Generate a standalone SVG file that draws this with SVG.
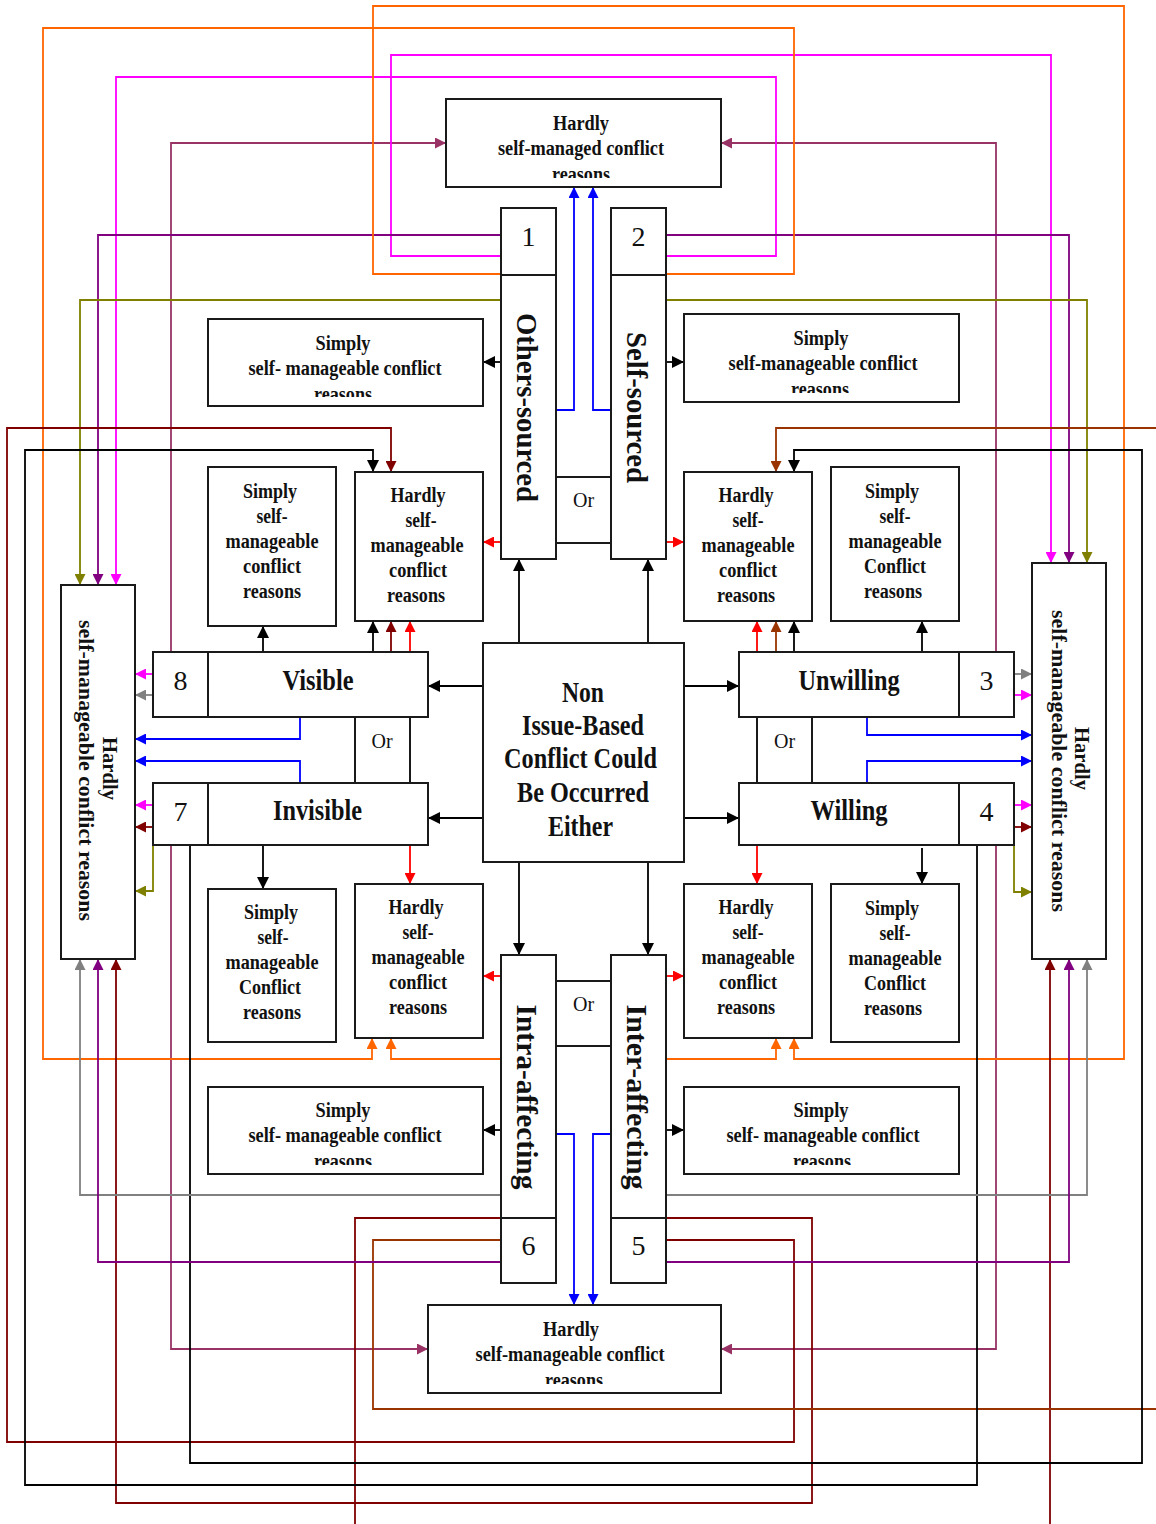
<svg xmlns="http://www.w3.org/2000/svg" width="1156" height="1524" viewBox="0 0 1156 1524">
<style>
.bx{fill:#fff;stroke:#1a1a1a;stroke-width:2}
.t{font-family:"Liberation Serif","Times New Roman",serif;font-weight:bold;fill:#111;text-anchor:middle}
.s{font-size:20.5px}
.L{font-size:29px}
.V{font-size:29px}
.n{font-family:"Liberation Serif","Times New Roman",serif;font-weight:normal;fill:#111;text-anchor:middle;font-size:28px}
.or{font-family:"Liberation Serif","Times New Roman",serif;font-weight:normal;fill:#111;text-anchor:middle;font-size:20px}
.c{fill:none;stroke-width:1.8}
.k{stroke:#000}.r{stroke:#ff0000}.b{stroke:#0000ff}.m{stroke:#ff00ff}.p{stroke:#800080}.o{stroke:#808000}.g{stroke:#808080}.dr{stroke:#800000}.og{stroke:#ff6600}.pm{stroke:#993366}.br{stroke:#993300}
</style>
<defs>
<marker id="aK" viewBox="0 0 10 10" refX="10" refY="5" markerWidth="12" markerHeight="12" markerUnits="userSpaceOnUse" orient="auto"><path d="M0,0 L10,5 L0,10 z" fill="#000"/></marker>
<marker id="aR" viewBox="0 0 10 10" refX="10" refY="5" markerWidth="11" markerHeight="11" markerUnits="userSpaceOnUse" orient="auto"><path d="M0,0 L10,5 L0,10 z" fill="#ff0000"/></marker>
<marker id="aB" viewBox="0 0 10 10" refX="10" refY="5" markerWidth="11" markerHeight="11" markerUnits="userSpaceOnUse" orient="auto"><path d="M0,0 L10,5 L0,10 z" fill="#0000ff"/></marker>
<marker id="aM" viewBox="0 0 10 10" refX="10" refY="5" markerWidth="11" markerHeight="11" markerUnits="userSpaceOnUse" orient="auto"><path d="M0,0 L10,5 L0,10 z" fill="#ff00ff"/></marker>
<marker id="aP" viewBox="0 0 10 10" refX="10" refY="5" markerWidth="11" markerHeight="11" markerUnits="userSpaceOnUse" orient="auto"><path d="M0,0 L10,5 L0,10 z" fill="#800080"/></marker>
<marker id="aO" viewBox="0 0 10 10" refX="10" refY="5" markerWidth="11" markerHeight="11" markerUnits="userSpaceOnUse" orient="auto"><path d="M0,0 L10,5 L0,10 z" fill="#808000"/></marker>
<marker id="aG" viewBox="0 0 10 10" refX="10" refY="5" markerWidth="11" markerHeight="11" markerUnits="userSpaceOnUse" orient="auto"><path d="M0,0 L10,5 L0,10 z" fill="#808080"/></marker>
<marker id="aDR" viewBox="0 0 10 10" refX="10" refY="5" markerWidth="11" markerHeight="11" markerUnits="userSpaceOnUse" orient="auto"><path d="M0,0 L10,5 L0,10 z" fill="#800000"/></marker>
<marker id="aOG" viewBox="0 0 10 10" refX="10" refY="5" markerWidth="11" markerHeight="11" markerUnits="userSpaceOnUse" orient="auto"><path d="M0,0 L10,5 L0,10 z" fill="#ff6600"/></marker>
<marker id="aPM" viewBox="0 0 10 10" refX="10" refY="5" markerWidth="11" markerHeight="11" markerUnits="userSpaceOnUse" orient="auto"><path d="M0,0 L10,5 L0,10 z" fill="#993366"/></marker>
<marker id="aBR" viewBox="0 0 10 10" refX="10" refY="5" markerWidth="11" markerHeight="11" markerUnits="userSpaceOnUse" orient="auto"><path d="M0,0 L10,5 L0,10 z" fill="#993300"/></marker>
<clipPath id="cTop"><rect x="446" y="99" width="275" height="79"/></clipPath>
<clipPath id="cBot"><rect x="428" y="1305" width="293" height="79"/></clipPath>
<clipPath id="cS1"><rect x="208" y="319" width="275" height="78"/></clipPath>
<clipPath id="cS2"><rect x="684" y="314" width="275" height="79"/></clipPath>
<clipPath id="cS3"><rect x="208" y="1087" width="275" height="78"/></clipPath>
<clipPath id="cS4"><rect x="684" y="1087" width="275" height="78"/></clipPath>
</defs>
<rect x="0" y="0" width="1156" height="1524" fill="#fff"/>

<g id="connectors">
<polyline class="c pm" points="171,652 171,143 446,143" marker-end="url(#aPM)"/>
<polyline class="c pm" points="996,652 996,143 721,143" marker-end="url(#aPM)"/>
<polyline class="c pm" points="171,845 171,1349 428,1349" marker-end="url(#aPM)"/>
<polyline class="c pm" points="996,845 996,1349 721,1349" marker-end="url(#aPM)"/>
<polyline class="c m" points="501,256 391,256 391,55 1051,55 1051,563" marker-end="url(#aM)"/>
<polyline class="c m" points="666,256 776,256 776,77 116,77 116,585" marker-end="url(#aM)"/>
<polyline class="c p" points="501,235 98,235 98,585" marker-end="url(#aP)"/>
<polyline class="c p" points="666,235 1069,235 1069,563" marker-end="url(#aP)"/>
<polyline class="c o" points="501,300 80,300 80,585" marker-end="url(#aO)"/>
<polyline class="c o" points="666,300 1087,300 1087,563" marker-end="url(#aO)"/>
<polyline class="c og" points="666,274 794,274 794,28 43,28 43,1059 372,1059 372,1038" marker-end="url(#aOG)"/>
<polyline class="c og" points="501,274 373,274 373,6 1124,6 1124,1059 794,1059 794,1038" marker-end="url(#aOG)"/>
<polyline class="c og" points="501,1059 391,1059 391,1038" marker-end="url(#aOG)"/>
<polyline class="c og" points="666,1059 776,1059 776,1038" marker-end="url(#aOG)"/>
<polyline class="c b" points="556,410 574,410 574,187" marker-end="url(#aB)"/>
<polyline class="c b" points="611,410 593,410 593,187" marker-end="url(#aB)"/>
<polyline class="c b" points="556,1134 574,1134 574,1305" marker-end="url(#aB)"/>
<polyline class="c b" points="611,1134 593,1134 593,1305" marker-end="url(#aB)"/>
<line class="c k" x1="501" y1="362" x2="483" y2="362" marker-end="url(#aK)"/>
<line class="c k" x1="666" y1="362" x2="684" y2="362" marker-end="url(#aK)"/>
<line class="c r" x1="501" y1="542" x2="483" y2="542" marker-end="url(#aR)"/>
<line class="c r" x1="666" y1="542" x2="684" y2="542" marker-end="url(#aR)"/>
<line class="c k" x1="519" y1="643" x2="519" y2="559" marker-end="url(#aK)"/>
<line class="c k" x1="648" y1="643" x2="648" y2="559" marker-end="url(#aK)"/>
<line class="c k" x1="483" y1="686" x2="428" y2="686" marker-end="url(#aK)"/>
<line class="c k" x1="483" y1="818" x2="428" y2="818" marker-end="url(#aK)"/>
<line class="c k" x1="684" y1="686" x2="739" y2="686" marker-end="url(#aK)"/>
<line class="c k" x1="684" y1="818" x2="739" y2="818" marker-end="url(#aK)"/>
<line class="c k" x1="519" y1="862" x2="519" y2="955" marker-end="url(#aK)"/>
<line class="c k" x1="648" y1="862" x2="648" y2="955" marker-end="url(#aK)"/>
<line class="c r" x1="501" y1="976" x2="483" y2="976" marker-end="url(#aR)"/>
<line class="c r" x1="666" y1="976" x2="684" y2="976" marker-end="url(#aR)"/>
<line class="c k" x1="501" y1="1130" x2="483" y2="1130" marker-end="url(#aK)"/>
<line class="c k" x1="666" y1="1130" x2="684" y2="1130" marker-end="url(#aK)"/>
<line class="c k" x1="263" y1="652" x2="263" y2="626" marker-end="url(#aK)"/>
<line class="c k" x1="373" y1="652" x2="373" y2="621" marker-end="url(#aK)"/>
<line class="c dr" x1="391" y1="652" x2="391" y2="621" marker-end="url(#aDR)"/>
<line class="c r" x1="410" y1="652" x2="410" y2="621" marker-end="url(#aR)"/>
<line class="c r" x1="757" y1="652" x2="757" y2="621" marker-end="url(#aR)"/>
<line class="c br" x1="776" y1="652" x2="776" y2="621" marker-end="url(#aBR)"/>
<line class="c k" x1="794" y1="652" x2="794" y2="621" marker-end="url(#aK)"/>
<line class="c k" x1="922" y1="652" x2="922" y2="621" marker-end="url(#aK)"/>
<line class="c k" x1="263" y1="845" x2="263" y2="889" marker-end="url(#aK)"/>
<line class="c r" x1="410" y1="845" x2="410" y2="884" marker-end="url(#aR)"/>
<line class="c r" x1="757" y1="845" x2="757" y2="884" marker-end="url(#aR)"/>
<line class="c k" x1="922" y1="848" x2="922" y2="884" marker-end="url(#aK)"/>
<line class="c m" x1="153" y1="674" x2="135" y2="674" marker-end="url(#aM)"/>
<line class="c g" x1="153" y1="695" x2="135" y2="695" marker-end="url(#aG)"/>
<polyline class="c b" points="300,717 300,739 135,739" marker-end="url(#aB)"/>
<polyline class="c b" points="300,783 300,761 135,761" marker-end="url(#aB)"/>
<line class="c m" x1="153" y1="805" x2="135" y2="805" marker-end="url(#aM)"/>
<line class="c dr" x1="153" y1="827" x2="135" y2="827" marker-end="url(#aDR)"/>
<polyline class="c o" points="153,845 153,891 135,891" marker-end="url(#aO)"/>
<line class="c g" x1="1014" y1="674" x2="1032" y2="674" marker-end="url(#aG)"/>
<line class="c m" x1="1014" y1="695" x2="1032" y2="695" marker-end="url(#aM)"/>
<polyline class="c b" points="867,717 867,735 1032,735" marker-end="url(#aB)"/>
<polyline class="c b" points="867,783 867,761 1032,761" marker-end="url(#aB)"/>
<line class="c m" x1="1014" y1="805" x2="1032" y2="805" marker-end="url(#aM)"/>
<line class="c dr" x1="1014" y1="827" x2="1032" y2="827" marker-end="url(#aDR)"/>
<polyline class="c o" points="1014,845 1014,892 1032,892" marker-end="url(#aO)"/>
<polyline class="c dr" points="666,1240 794,1240 794,1442 7,1442 7,428 391,428 391,472" marker-end="url(#aDR)"/>
<polyline class="c dr" points="666,1218 812,1218 812,1503 116,1503 116,959" marker-end="url(#aDR)"/>
<polyline class="c dr" points="501,1218 355,1218 355,1524"/>
<polyline class="c dr" points="1050,1524 1050,959" marker-end="url(#aDR)"/>
<polyline class="c br" points="501,1240 373,1240 373,1409 1156,1409"/>
<polyline class="c br" points="1156,428 776,428 776,472" marker-end="url(#aBR)"/>
<polyline class="c k" points="977,845 977,1485 25,1485 25,450 373,450 373,472" marker-end="url(#aK)"/>
<polyline class="c k" points="190,845 190,1463 1142,1463 1142,450 794,450 794,472" marker-end="url(#aK)"/>
<polyline class="c g" points="501,1195 80,1195 80,959" marker-end="url(#aG)"/>
<polyline class="c g" points="666,1195 1087,1195 1087,959" marker-end="url(#aG)"/>
<polyline class="c p" points="501,1262 98,1262 98,959" marker-end="url(#aP)"/>
<polyline class="c p" points="666,1262 1069,1262 1069,959" marker-end="url(#aP)"/>
</g>

<g id="hardly-top">
<rect class="bx" x="446" y="99" width="275" height="88"/>
<g clip-path="url(#cTop)">
<text class="t s" x="581" y="130" textLength="56" lengthAdjust="spacingAndGlyphs">Hardly</text>
<text class="t s" x="581" y="155" textLength="166" lengthAdjust="spacingAndGlyphs">self-managed conflict</text>
<text class="t s" x="581" y="181" textLength="58" lengthAdjust="spacingAndGlyphs">reasons</text>
</g>
</g>

<g id="hardly-bottom">
<rect class="bx" x="428" y="1305" width="293" height="88"/>
<g clip-path="url(#cBot)">
<text class="t s" x="571" y="1336" textLength="56" lengthAdjust="spacingAndGlyphs">Hardly</text>
<text class="t s" x="570" y="1361" textLength="189" lengthAdjust="spacingAndGlyphs">self-manageable conflict</text>
<text class="t s" x="574" y="1387" textLength="58" lengthAdjust="spacingAndGlyphs">reasons</text>
</g>
</g>

<g id="simply-top-left">
<rect class="bx" x="208" y="319" width="275" height="87"/>
<g clip-path="url(#cS1)">
<text class="t s" x="343" y="350" textLength="55" lengthAdjust="spacingAndGlyphs">Simply</text>
<text class="t s" x="345" y="375" textLength="193" lengthAdjust="spacingAndGlyphs">self- manageable conflict</text>
<text class="t s" x="343" y="401" textLength="58" lengthAdjust="spacingAndGlyphs">reasons</text>
</g>
</g>

<g id="simply-top-right">
<rect class="bx" x="684" y="314" width="275" height="88"/>
<g clip-path="url(#cS2)">
<text class="t s" x="821" y="345" textLength="55" lengthAdjust="spacingAndGlyphs">Simply</text>
<text class="t s" x="823" y="370" textLength="189" lengthAdjust="spacingAndGlyphs">self-manageable conflict</text>
<text class="t s" x="820" y="396" textLength="58" lengthAdjust="spacingAndGlyphs">reasons</text>
</g>
</g>

<g id="simply-bottom-left">
<rect class="bx" x="208" y="1087" width="275" height="87"/>
<g clip-path="url(#cS3)">
<text class="t s" x="343" y="1117" textLength="55" lengthAdjust="spacingAndGlyphs">Simply</text>
<text class="t s" x="345" y="1142" textLength="193" lengthAdjust="spacingAndGlyphs">self- manageable conflict</text>
<text class="t s" x="343" y="1168" textLength="58" lengthAdjust="spacingAndGlyphs">reasons</text>
</g>
</g>

<g id="simply-bottom-right">
<rect class="bx" x="684" y="1087" width="275" height="87"/>
<g clip-path="url(#cS4)">
<text class="t s" x="821" y="1117" textLength="55" lengthAdjust="spacingAndGlyphs">Simply</text>
<text class="t s" x="823" y="1142" textLength="193" lengthAdjust="spacingAndGlyphs">self- manageable conflict</text>
<text class="t s" x="822" y="1168" textLength="58" lengthAdjust="spacingAndGlyphs">reasons</text>
</g>
</g>

<g id="simply-tl-small">
<rect class="bx" x="208" y="467" width="128" height="159"/>
<text class="t s" x="270" y="498" textLength="54" lengthAdjust="spacingAndGlyphs">Simply</text>
<text class="t s" x="272" y="523" textLength="31" lengthAdjust="spacingAndGlyphs">self-</text>
<text class="t s" x="272" y="548" textLength="93" lengthAdjust="spacingAndGlyphs">manageable</text>
<text class="t s" x="272" y="573" textLength="58" lengthAdjust="spacingAndGlyphs">conflict</text>
<text class="t s" x="272" y="598" textLength="58" lengthAdjust="spacingAndGlyphs">reasons</text>
</g>

<g id="hardly-tl-small">
<rect class="bx" x="355" y="472" width="128" height="149"/>
<text class="t s" x="418" y="502" textLength="55" lengthAdjust="spacingAndGlyphs">Hardly</text>
<text class="t s" x="421" y="527" textLength="31" lengthAdjust="spacingAndGlyphs">self-</text>
<text class="t s" x="417" y="552" textLength="93" lengthAdjust="spacingAndGlyphs">manageable</text>
<text class="t s" x="418" y="577" textLength="58" lengthAdjust="spacingAndGlyphs">conflict</text>
<text class="t s" x="416" y="602" textLength="58" lengthAdjust="spacingAndGlyphs">reasons</text>
</g>

<g id="hardly-tr-small">
<rect class="bx" x="684" y="472" width="128" height="149"/>
<text class="t s" x="746" y="502" textLength="55" lengthAdjust="spacingAndGlyphs">Hardly</text>
<text class="t s" x="748" y="527" textLength="31" lengthAdjust="spacingAndGlyphs">self-</text>
<text class="t s" x="748" y="552" textLength="93" lengthAdjust="spacingAndGlyphs">manageable</text>
<text class="t s" x="748" y="577" textLength="58" lengthAdjust="spacingAndGlyphs">conflict</text>
<text class="t s" x="746" y="602" textLength="58" lengthAdjust="spacingAndGlyphs">reasons</text>
</g>

<g id="simply-tr-small">
<rect class="bx" x="831" y="467" width="128" height="154"/>
<text class="t s" x="892" y="498" textLength="54" lengthAdjust="spacingAndGlyphs">Simply</text>
<text class="t s" x="895" y="523" textLength="31" lengthAdjust="spacingAndGlyphs">self-</text>
<text class="t s" x="895" y="548" textLength="93" lengthAdjust="spacingAndGlyphs">manageable</text>
<text class="t s" x="895" y="573" textLength="62" lengthAdjust="spacingAndGlyphs">Conflict</text>
<text class="t s" x="893" y="598" textLength="58" lengthAdjust="spacingAndGlyphs">reasons</text>
</g>

<g id="simply-bl-small">
<rect class="bx" x="208" y="889" width="128" height="153"/>
<text class="t s" x="271" y="919" textLength="54" lengthAdjust="spacingAndGlyphs">Simply</text>
<text class="t s" x="273" y="944" textLength="31" lengthAdjust="spacingAndGlyphs">self-</text>
<text class="t s" x="272" y="969" textLength="93" lengthAdjust="spacingAndGlyphs">manageable</text>
<text class="t s" x="270" y="994" textLength="62" lengthAdjust="spacingAndGlyphs">Conflict</text>
<text class="t s" x="272" y="1019" textLength="58" lengthAdjust="spacingAndGlyphs">reasons</text>
</g>

<g id="hardly-bl-small">
<rect class="bx" x="355" y="884" width="128" height="154"/>
<text class="t s" x="416" y="914" textLength="55" lengthAdjust="spacingAndGlyphs">Hardly</text>
<text class="t s" x="418" y="939" textLength="31" lengthAdjust="spacingAndGlyphs">self-</text>
<text class="t s" x="418" y="964" textLength="93" lengthAdjust="spacingAndGlyphs">manageable</text>
<text class="t s" x="418" y="989" textLength="58" lengthAdjust="spacingAndGlyphs">conflict</text>
<text class="t s" x="418" y="1014" textLength="58" lengthAdjust="spacingAndGlyphs">reasons</text>
</g>

<g id="hardly-br-small">
<rect class="bx" x="684" y="884" width="128" height="154"/>
<text class="t s" x="746" y="914" textLength="55" lengthAdjust="spacingAndGlyphs">Hardly</text>
<text class="t s" x="748" y="939" textLength="31" lengthAdjust="spacingAndGlyphs">self-</text>
<text class="t s" x="748" y="964" textLength="93" lengthAdjust="spacingAndGlyphs">manageable</text>
<text class="t s" x="748" y="989" textLength="58" lengthAdjust="spacingAndGlyphs">conflict</text>
<text class="t s" x="746" y="1014" textLength="58" lengthAdjust="spacingAndGlyphs">reasons</text>
</g>

<g id="simply-br-small">
<rect class="bx" x="831" y="884" width="128" height="158"/>
<text class="t s" x="892" y="915" textLength="54" lengthAdjust="spacingAndGlyphs">Simply</text>
<text class="t s" x="895" y="940" textLength="31" lengthAdjust="spacingAndGlyphs">self-</text>
<text class="t s" x="895" y="965" textLength="93" lengthAdjust="spacingAndGlyphs">manageable</text>
<text class="t s" x="895" y="990" textLength="62" lengthAdjust="spacingAndGlyphs">Conflict</text>
<text class="t s" x="893" y="1015" textLength="58" lengthAdjust="spacingAndGlyphs">reasons</text>
</g>

<g id="others-sourced">
<rect class="bx" x="501" y="208" width="55" height="67"/>
<rect class="bx" x="501" y="275" width="55" height="284"/>
<text class="n" x="528.5" y="246">1</text>
<text class="t V" transform="translate(517,407.5) rotate(90)" x="0" y="0" textLength="189" lengthAdjust="spacingAndGlyphs">Others-sourced</text>
</g>

<g id="self-sourced">
<rect class="bx" x="611" y="208" width="55" height="67"/>
<rect class="bx" x="611" y="275" width="55" height="284"/>
<text class="n" x="638.5" y="246">2</text>
<text class="t V" transform="translate(627,407.5) rotate(90)" x="0" y="0" textLength="151" lengthAdjust="spacingAndGlyphs">Self-sourced</text>
</g>

<g id="or-top">
<rect class="bx" x="556" y="477" width="55" height="66"/>
<text class="or" x="583.5" y="507">Or</text>
</g>

<g id="intra-affecting">
<rect class="bx" x="501" y="955" width="55" height="263"/>
<rect class="bx" x="501" y="1218" width="55" height="65"/>
<text class="n" x="528.5" y="1255">6</text>
<text class="t V" transform="translate(517,1097) rotate(90)" x="0" y="0" textLength="185" lengthAdjust="spacingAndGlyphs">Intra-affecting</text>
</g>

<g id="inter-affecting">
<rect class="bx" x="611" y="955" width="55" height="263"/>
<rect class="bx" x="611" y="1218" width="55" height="65"/>
<text class="n" x="638.5" y="1255">5</text>
<text class="t V" transform="translate(627,1097) rotate(90)" x="0" y="0" textLength="185" lengthAdjust="spacingAndGlyphs">Inter-affecting</text>
</g>

<g id="or-bottom">
<rect class="bx" x="556" y="981" width="55" height="65"/>
<text class="or" x="583.5" y="1011">Or</text>
</g>

<g id="center">
<rect class="bx" x="483" y="643" width="201" height="219"/>
<text class="t L" x="583" y="702" font-size="28" textLength="42" lengthAdjust="spacingAndGlyphs">Non</text>
<text class="t L" x="583" y="735" font-size="28" textLength="122" lengthAdjust="spacingAndGlyphs">Issue-Based</text>
<text class="t L" x="580.5" y="768" font-size="28" textLength="153" lengthAdjust="spacingAndGlyphs">Conflict Could</text>
<text class="t L" x="583" y="802" font-size="28" textLength="132" lengthAdjust="spacingAndGlyphs">Be Occurred</text>
<text class="t L" x="580.5" y="836" font-size="28" textLength="65" lengthAdjust="spacingAndGlyphs">Either</text>
</g>

<g id="visible">
<rect class="bx" x="153" y="652" width="55" height="65"/>
<rect class="bx" x="208" y="652" width="220" height="65"/>
<text class="n" x="180.5" y="690">8</text>
<text class="t L" x="318" y="690" textLength="71" lengthAdjust="spacingAndGlyphs">Visible</text>
</g>

<g id="invisible">
<rect class="bx" x="153" y="783" width="55" height="62"/>
<rect class="bx" x="208" y="783" width="220" height="62"/>
<text class="n" x="180.5" y="821">7</text>
<text class="t L" x="317.5" y="820" textLength="89" lengthAdjust="spacingAndGlyphs">Invisible</text>
</g>

<g id="or-left">
<rect class="bx" x="355" y="717" width="55" height="66"/>
<text class="or" x="382" y="748">Or</text>
</g>

<g id="unwilling">
<rect class="bx" x="739" y="652" width="220" height="65"/>
<rect class="bx" x="959" y="652" width="55" height="65"/>
<text class="n" x="986.5" y="690">3</text>
<text class="t L" x="849" y="690" textLength="101" lengthAdjust="spacingAndGlyphs">Unwilling</text>
</g>

<g id="willing">
<rect class="bx" x="739" y="783" width="220" height="62"/>
<rect class="bx" x="959" y="783" width="55" height="62"/>
<text class="n" x="986.5" y="821">4</text>
<text class="t L" x="849" y="820" textLength="77" lengthAdjust="spacingAndGlyphs">Willing</text>
</g>

<g id="or-right">
<rect class="bx" x="757" y="717" width="55" height="66"/>
<text class="or" x="784.5" y="748">Or</text>
</g>

<g id="hardly-left">
<rect class="bx" x="61" y="585" width="74" height="374"/>
<text class="t" font-size="20" transform="translate(103,768.5) rotate(90)" x="0" y="0" textLength="63" lengthAdjust="spacingAndGlyphs">Hardly</text>
<text class="t" font-size="20" transform="translate(79,770.5) rotate(90)" x="0" y="0" textLength="301" lengthAdjust="spacingAndGlyphs">self-manageable conflict reasons</text>
</g>

<g id="hardly-right">
<rect class="bx" x="1032" y="563" width="74" height="396"/>
<text class="t" font-size="20" transform="translate(1075,758.5) rotate(90)" x="0" y="0" textLength="63" lengthAdjust="spacingAndGlyphs">Hardly</text>
<text class="t" font-size="20" transform="translate(1052,761) rotate(90)" x="0" y="0" textLength="302" lengthAdjust="spacingAndGlyphs">self-manageable conflict reasons</text>
</g>
</svg>
